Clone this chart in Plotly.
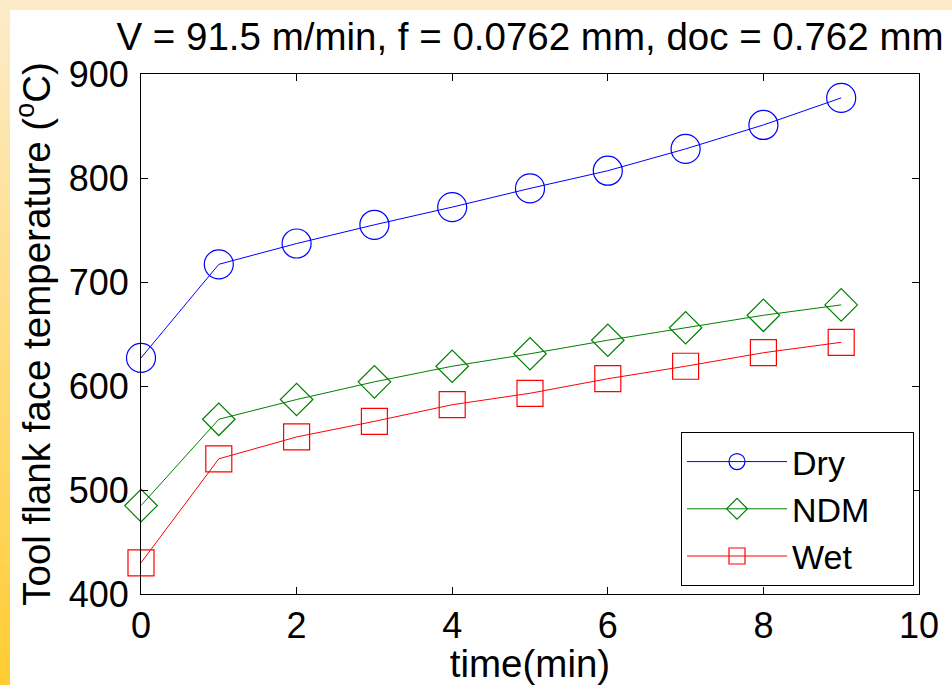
import plotly.graph_objects as go

# Cutting time (min) and measured tool flank face temperature (deg C)
time_min = [0, 1, 2, 3, 4, 5, 6, 7, 8, 9]
temp_dry = [627, 717, 737, 755, 772, 790, 807, 828, 851, 877]
temp_ndm = [485, 568, 587, 604, 619, 631, 644, 656, 668, 678]
temp_wet = [430, 530, 551, 566, 582, 593, 607, 619, 632, 642]

series_names = ["Dry", "NDM", "Wet"]
x_ticks = [0, 2, 4, 6, 8, 10]
y_ticks = [400, 500, 600, 700, 800, 900]

W, H = 952, 685
L, R, T, B = 141, 33, 74, 91
PW, PH = W - L - R, H - T - B
FONT = "Liberation Sans, Arial, sans-serif"


def px_x(px):
    return (px - L) / PW


def px_y(py):
    return (H - B - py) / PH


fig = go.Figure()

styles = [
    dict(color="#0000FF", symbol="circle-open", size=29),
    dict(color="#008000", symbol="diamond-open", size=25),
    dict(color="#FF0000", symbol="square-open", size=26),
]
# trailing non-breaking spaces give the legend box some right-hand padding
pad = "\u00a0" * 4
for name, values, st in zip(series_names, [temp_dry, temp_ndm, temp_wet], styles):
    fig.add_trace(go.Scatter(
        x=time_min, y=values, name=name + pad, mode="lines+markers",
        line=dict(color=st["color"], width=1),
        marker=dict(symbol=st["symbol"], size=st["size"], color=st["color"],
                    line=dict(color=st["color"], width=1.2)),
        cliponaxis=False,
    ))

# Slide-style frame: cream top band and a gradient strip down the left edge
shapes = [dict(type="rect", xref="paper", yref="paper",
               x0=px_x(0), x1=px_x(W), y0=px_y(0), y1=px_y(10),
               fillcolor="#FDEBC7", line=dict(width=0), layer="below")]
top_rgb = (253, 235, 199)
bot_rgb = (255, 204, 51)
n_bands = 60
for i in range(n_bands):
    t = i / (n_bands - 1)
    c = tuple(round(a + (b - a) * t) for a, b in zip(top_rgb, bot_rgb))
    y0 = 10 + (H - 10) * i / n_bands
    y1 = 10 + (H - 10) * (i + 1) / n_bands
    shapes.append(dict(type="rect", xref="paper", yref="paper",
                       x0=px_x(0), x1=px_x(10), y0=px_y(y0), y1=px_y(y1 + 0.5),
                       fillcolor="rgb(%d,%d,%d)" % c, line=dict(width=0), layer="below"))
shapes.append(dict(type="rect", xref="paper", yref="paper",
                   x0=px_x(0), x1=px_x(10), y0=px_y(0), y1=px_y(10),
                   fillcolor="#FDEBC7", line=dict(width=0), layer="below"))

axis_common = dict(
    showline=True, linecolor="black", linewidth=1, mirror="ticks",
    ticks="inside", ticklen=7, tickcolor="black", tickwidth=1,
    showgrid=False, zeroline=False,
    tickfont=dict(family=FONT, size=36, color="black"),
)

fig.update_layout(
    width=W, height=H,
    margin=dict(l=L, r=R, t=T, b=B, autoexpand=False),
    paper_bgcolor="white", plot_bgcolor="white",
    shapes=shapes,
    title=dict(text="V = 91.5 m/min, f = 0.0762 mm, doc = 0.762 mm",
               font=dict(family=FONT, size=38.5, color="black"),
               x=0.5, xref="paper", xanchor="center",
               y=1 - 37 / H, yref="container", yanchor="middle"),
    xaxis=dict(range=[0, 10], tickvals=x_ticks, ticktext=[str(v) for v in x_ticks],
               title=dict(text="time(min)", font=dict(family=FONT, size=38.5, color="black"),
                          standoff=0),
               **axis_common),
    yaxis=dict(range=[400, 900], tickvals=y_ticks, ticktext=[str(v) for v in y_ticks],
               title=dict(text="Tool flank face temperature (<sup>o</sup>C)",
                          font=dict(family=FONT, size=38.5, color="black"), standoff=6),
               ticklabelstandoff=4,
               **axis_common),
    legend=dict(x=px_x(681), y=px_y(432), xanchor="left", yanchor="top",
                bgcolor="white", bordercolor="black", borderwidth=1,
                font=dict(family=FONT, size=34, color="black"),
                itemwidth=100, tracegroupgap=0),
    showlegend=True,
)

fig.write_html("out.html")
